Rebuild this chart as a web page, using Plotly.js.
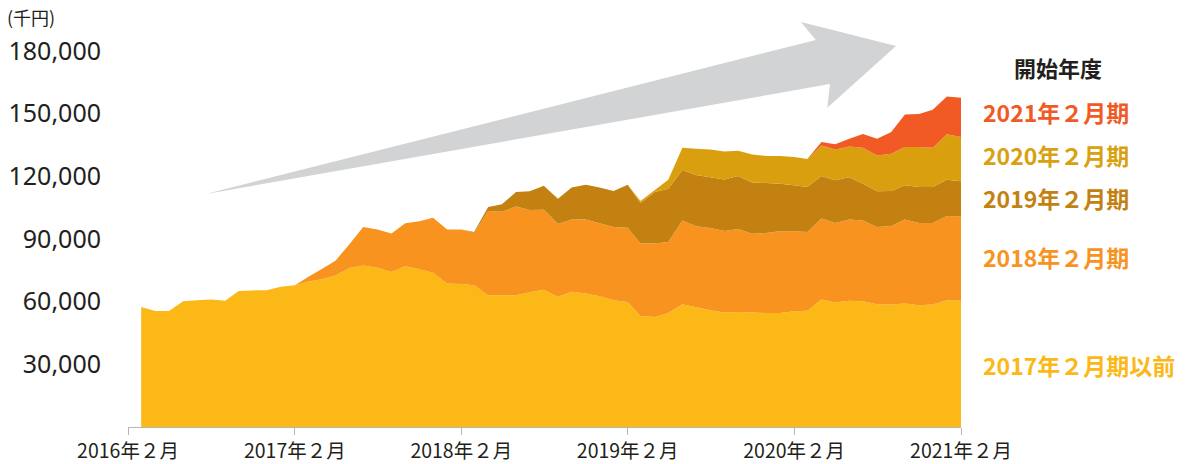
<!DOCTYPE html>
<html>
<head>
<meta charset="utf-8">
<script src="https://cdn.plot.ly/plotly-3.0.1.min.js"></script>
<style>
  html, body { margin: 0; padding: 0; background: #ffffff; }
  #chart { width: 1193px; height: 464px; }
</style>
</head>
<body>
<div id="chart"></div>
<script>
// ---- data (千円) ----
const months = [
  '2016-03','2016-04','2016-05','2016-06','2016-07','2016-08','2016-09','2016-10','2016-11','2016-12','2017-01','2017-02',
  '2017-03','2017-04','2017-05','2017-06','2017-07','2017-08','2017-09','2017-10','2017-11','2017-12','2018-01','2018-02',
  '2018-03','2018-04','2018-05','2018-06','2018-07','2018-08','2018-09','2018-10','2018-11','2018-12','2019-01','2019-02',
  '2019-03','2019-04','2019-05','2019-06','2019-07','2019-08','2019-09','2019-10','2019-11','2019-12','2020-01','2020-02',
  '2020-03','2020-04','2020-05','2020-06','2020-07','2020-08','2020-09','2020-10','2020-11','2020-12','2021-01','2021-02'
];

const seriesNames = ['2017年２月期以前', '2018年２月期', '2019年２月期', '2020年２月期', '2021年２月期'];

// 2017年２月期以前 (from 2016-03)
const y2017 = [57400,55500,55500,60200,60700,61000,60400,65100,65400,65500,67100,67900,
               69500,70700,72500,76100,77300,76200,74200,77000,75500,73900,68700,68400,
               67900,63100,63100,63100,64500,65700,62300,64700,63900,62600,60700,59900,
               53100,52700,54600,58800,57300,55900,54800,55100,54800,54600,54600,55400,
               55600,61000,59600,60400,60200,58800,58700,59100,58300,58700,60700,60400];
// 2018年２月期 (from 2017-03)
const y2018 = [2200,4900,7100,11500,18400,18300,18400,20500,23000,26300,25900,26200,
               25000,40300,40000,42400,39400,38300,34900,34600,35400,34900,35000,35500,
               34700,35100,34000,40100,38800,39400,39000,39700,37700,38300,39100,38300,
               37800,38800,38100,38900,38700,36900,37500,40200,39400,39000,40300,40500];
// 2019年２月期 (from 2018-03)
const y2019 = [400,1900,3500,7000,8900,11500,12100,15300,16700,17100,17300,20600,
               19400,24700,25500,24100,24500,24300,24700,25300,24600,23900,22800,22000,
               21500,20300,20400,20300,17600,17100,16800,16400,17200,17200,17400,16800];
// 2020年２月期 (from 2019-03)
const y2020 = [1000,800,4300,10700,12600,13300,13400,12200,13400,12900,13200,13500,
               13400,14700,14800,14700,17200,17200,17800,18300,19100,18800,21700,21100];
// 2021年２月期 (from 2020-03)
const y2021 = [0,1600,2400,3700,6600,8000,10400,15600,15900,18200,18100,18800];

const startIndex = [0, 12, 24, 36, 48];

const xTickVals = ['2016-02-01','2017-02-01','2018-02-01','2019-02-01','2020-02-01','2021-02-01'];
const xTickText = ['2016年２月','2017年２月','2018年２月','2019年２月','2020年２月','2021年２月'];
const yTickVals = [30000, 60000, 90000, 120000, 150000, 180000];

// ---- styles ----
const colors = ['#FBB817', '#F7931E', '#C38112', '#D99F0E', '#F15A24'];
const labelColors = ['#FBB817', '#F7931E', '#C38112', '#D9A00F', '#F15A24'];
const values = [y2017, y2018, y2019, y2020, y2021];

const traces = values.map((v, k) => ({
  type: 'scatter',
  x: months.slice(startIndex[k], startIndex[k] + v.length),
  y: v,
  name: seriesNames[k],
  stackgroup: 'one',
  mode: 'none',
  fillcolor: colors[k],
  line: { width: 0, shape: 'linear' },
  hoverinfo: 'skip'
}));

// pixel -> paper helpers for decorations
const L = 128, R = 961, T = 51, B = 427;
const px = v => (v - L) / (R - L);
const py = v => (B - v) / (B - T);

const arrowPts = [[206, 194], [815.8, 40], [801, 22], [896, 46], [827.3, 107.7], [830, 84]];
const arrowPath = 'M ' + arrowPts.map(p => px(p[0]).toFixed(4) + ',' + py(p[1]).toFixed(4)).join(' L ') + ' Z';

const cjk = '"Noto Sans CJK JP", "Noto Sans", sans-serif';

const labelY = [365, 256.7, 198.3, 155, 111.7];
const annotations = [
  { text: '(千円)', xref: 'paper', yref: 'paper', x: px(5), y: py(17), xanchor: 'left', yanchor: 'middle',
    showarrow: false, font: { family: cjk, size: 18, color: '#231f20' } },
  { text: '<b>開始年度</b>', xref: 'paper', yref: 'paper', x: px(1058), y: py(67), xanchor: 'center', yanchor: 'middle',
    showarrow: false, font: { family: cjk, size: 22, color: '#231f20' } }
];
seriesNames.forEach((n, k) => {
  annotations.push({
    text: '<b>' + n + '</b>', xref: 'paper', yref: 'paper', x: px(981), y: py(labelY[k]),
    xanchor: 'left', yanchor: 'middle', showarrow: false,
    font: { family: cjk, size: 23, color: labelColors[k] }
  });
});

const layout = {
  width: 1193, height: 464,
  margin: { l: L, r: 1193 - R, t: T, b: 464 - B, pad: 0 },
  paper_bgcolor: '#ffffff', plot_bgcolor: '#ffffff',
  showlegend: false,
  xaxis: {
    type: 'date',
    range: ['2016-02-01', '2021-02-01'],
    tickmode: 'array', tickvals: xTickVals, ticktext: xTickText,
    ticks: 'outside', ticklen: 7, tickcolor: '#b5b5b5', tickwidth: 1,
    showline: true, linecolor: '#b5b5b5', linewidth: 1,
    showgrid: false, zeroline: false,
    tickfont: { family: cjk, size: 19.5, color: '#231f20' }
  },
  yaxis: {
    range: [0, 180000],
    tickmode: 'array', tickvals: yTickVals, tickformat: ',d',
    ticks: '', showline: false, showgrid: false, zeroline: false,
    ticklabelstandoff: 26,
    tickfont: { family: '"Noto Sans", sans-serif', size: 25, color: '#231f20' }
  },
  shapes: [
    { type: 'path', xref: 'paper', yref: 'paper', path: arrowPath,
      fillcolor: '#D1D3D4', line: { width: 0 }, layer: 'below' }
  ],
  annotations: annotations
};

Plotly.newPlot('chart', traces, layout, { staticPlot: true, displayModeBar: false });
</script>
</body>
</html>
